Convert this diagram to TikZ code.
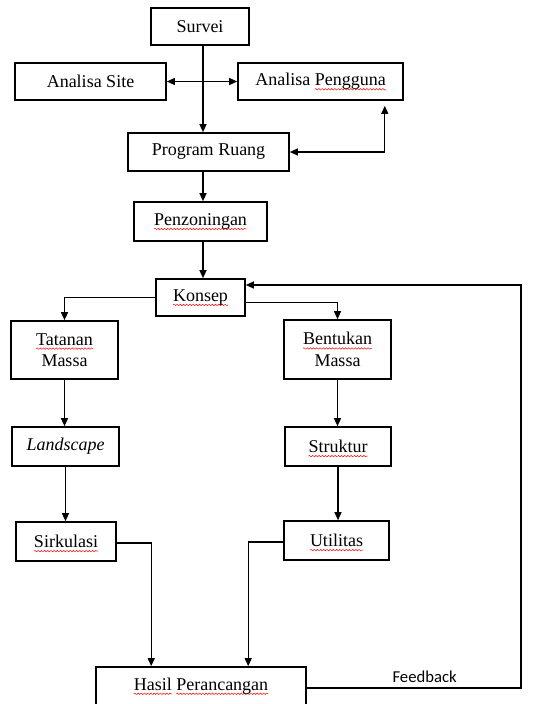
\documentclass[tikz,border=0pt]{standalone}
\usepackage{fontspec}
\setmainfont{Liberation Serif}
\newfontfamily\fbfont{Carlito}
\usetikzlibrary{arrows.meta,calc,decorations.pathmorphing}
% spell-check style underline: red wave under the word
\newcommand{\wavy}[1]{\setbox0=\hbox{#1}\rlap{\tikz[overlay]\draw[red,line width=0.35pt,decorate,
  decoration={snake,amplitude=0.55pt,segment length=2.4pt}] (0pt,-2.6pt) -- (\wd0,-2.6pt);}\box0\relax}
\tikzset{
  box/.style={draw,line width=1.2pt,inner sep=0pt,align=center,
    font=\fontsize{13.5}{16}\selectfont},
  arrow/.style={line width=1pt,-{Triangle[length=6pt,width=5.2pt]}},
  twoway/.style={line width=1pt,{Triangle[length=6pt,width=5.2pt]}-{Triangle[length=6pt,width=5.2pt]}},
}

\begin{document}
\begin{tikzpicture}[x=0.75pt,y=-0.75pt]
      \clip (0,0) rectangle (538,704);
      % main column
      \coordinate (axis) at (203,0);
      \node[box,minimum width=73.5pt,minimum height=27.75pt] (survei) at (200,26.5) {Survei};
      \node[box,minimum width=113.25pt,minimum height=27.75pt] (site) at (90.5,81.5) {Analisa Site};
      \node[box,minimum width=123.75pt,minimum height=27.75pt] (pengguna) at (320.5,81.5) {Analisa \wavy{Pengguna}};
      \node[box,minimum width=120.75pt,minimum height=28.5pt] (program) at (208.5,152) {Program Ruang};
      \node[box,minimum width=99.75pt,minimum height=29.25pt] (zoning) at (200.5,221.5) {\wavy{Penzoningan}};
      \node[box,minimum width=66.75pt,minimum height=27.75pt] (konsep) at (200.5,297.5) {\wavy{Konsep}};
      % left branch
      \node[box,minimum width=80.25pt,minimum height=43.5pt] (tatanan) at (64.5,350) {\wavy{Tatanan}\\Massa};
      \node[box,minimum width=80.25pt,minimum height=29.25pt] (landscape) at (65.5,446.5) {\textit{Landscape}};
      \node[box,minimum width=75pt,minimum height=29.25pt] (sirkulasi) at (66,541.5) {\wavy{Sirkulasi}};
      % right branch
      \node[box,minimum width=80.25pt,minimum height=44.25pt] (bentukan) at (337.5,349.5) {\wavy{Bentukan}\\Massa};
      \node[box,minimum width=79.5pt,minimum height=29.25pt] (struktur) at (338,446.5) {\wavy{Struktur}};
      \node[box,minimum width=78.75pt,minimum height=29.25pt] (utilitas) at (336.5,540.5) {\wavy{Utilitas}};
      % result
      \node[box,minimum width=157.5pt,minimum height=28.5pt] (hasil) at (201,686) {\wavy{Hasil} \wavy{Perancangan}};
      \coordinate (fb) at (521,400);

      % connectors
      \draw[arrow] (survei.south -| axis) -- (program.north -| axis);
      \draw[twoway] (site.east) -- (pengguna.west);
      \draw[twoway] (program.east) -| ($(pengguna.south east)+(-19,5)$);
      \draw[arrow] (program.south -| axis) -- (zoning.north -| axis);
      \draw[arrow] (zoning.south -| axis) -- (konsep.north -| axis);
      \draw[arrow] (konsep.west) -| (tatanan.north);
      \draw[arrow] ($(konsep.east)+(0,5)$) -| (bentukan.north);
      \draw[arrow] (tatanan.south) -- (tatanan.south |- landscape.north);
      \draw[arrow] (landscape.south) -- (landscape.south |- sirkulasi.north);
      \draw[arrow] (bentukan.south) -- (bentukan.south |- struktur.north);
      \draw[arrow] (struktur.south) -- (struktur.south |- utilitas.north);
      \draw[arrow] ($(sirkulasi.east)+(0,1.5)$) -| ($(hasil.north west)+(56,0)$);
      \draw[arrow] ($(utilitas.west)+(0,1.5)$) -| ($(hasil.north west)+(153,0)$);
      % feedback loop
      \draw[arrow] ($(hasil.east)+(0,2)$) -- node[above,pos=0.55,font=\fbfont\fontsize{12.5}{14}\selectfont] {Feedback} ($(hasil.east -| fb)+(0,2)$)
        -- ($(konsep.east -| fb)+(0,-12.5)$) -- ($(konsep.east)+(0,-12.5)$);
\end{tikzpicture}
\end{document}
